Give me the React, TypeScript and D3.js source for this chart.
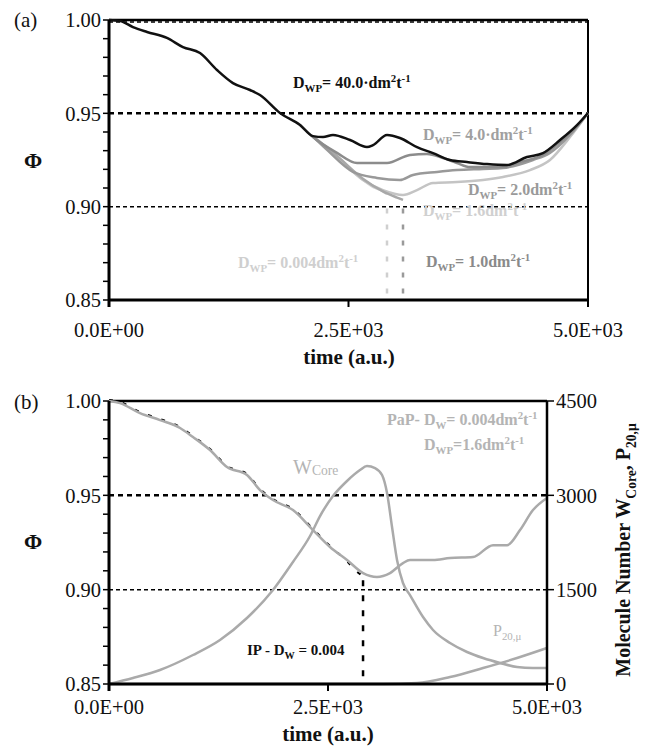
import React from 'react';
import * as d3 from 'd3';

// ---------- Panel (a) data: time (a.u.) vs Phi ----------
const phiD40: [number, number][] = [
  [0, 1.0], [115, 0.9995], [250, 0.9962], [397, 0.9936], [605, 0.9904], [772, 0.9855],
  [950, 0.9823], [1127, 0.9732], [1294, 0.9662], [1472, 0.9625], [1576, 0.9598],
  [1785, 0.9502], [1994, 0.9438], [2129, 0.9378], [2234, 0.9373], [2338, 0.9384],
  [2516, 0.9357], [2693, 0.9319], [2756, 0.933], [2902, 0.9384], [3037, 0.9368],
  [3215, 0.9319], [3382, 0.9287], [3559, 0.925], [3737, 0.9239], [3946, 0.9228],
  [4154, 0.9223], [4363, 0.9266], [4530, 0.9287], [4708, 0.9357], [4885, 0.9437], [5000, 0.9502],
];
const phiD4: [number, number][] = [
  [1994, 0.9438], [2129, 0.9373], [2380, 0.9288], [2589, 0.9234], [2902, 0.9234],
  [3142, 0.9277], [3319, 0.9282], [3486, 0.9261], [3632, 0.9234], [3768, 0.9212],
  [4113, 0.9212], [4290, 0.9239], [4530, 0.9277], [4708, 0.9346], [4885, 0.9432], [5000, 0.9502],
];
const phiD2: [number, number][] = [
  [2129, 0.9375], [2276, 0.9304], [2547, 0.9186], [2797, 0.9154], [3037, 0.9143],
  [3173, 0.917], [3424, 0.9186], [3632, 0.9196], [3904, 0.9202], [4113, 0.9207],
  [4426, 0.925], [4603, 0.9288], [4812, 0.9384], [5000, 0.9502],
];
const phiD16: [number, number][] = [
  [2129, 0.9376], [2380, 0.9266], [2651, 0.9143], [2860, 0.9089], [3069, 0.9063],
  [3215, 0.9089], [3382, 0.9127], [3632, 0.9132], [3904, 0.9143], [4113, 0.9159],
  [4394, 0.9196], [4603, 0.925], [4812, 0.9373], [5000, 0.9502],
];
const phiD1: [number, number][] = [
  [2129, 0.9376], [2380, 0.9272], [2650, 0.915], [2860, 0.9082], [3000, 0.905], [3069, 0.9036],
];
const phiD0004: [number, number][] = [
  [2129, 0.9377], [2380, 0.927], [2600, 0.9165], [2760, 0.9105], [2850, 0.9085], [2902, 0.9068],
];
const dropTimesA = [2902, 3069];

// ---------- Panel (b) data ----------
const phiPaP: [number, number][] = [
  [0, 1.0], [126, 0.9989], [354, 0.9936], [582, 0.9899], [811, 0.9857], [959, 0.9809],
  [1153, 0.974], [1347, 0.965], [1575, 0.9608], [1724, 0.9528], [1872, 0.9475],
  [2100, 0.9422], [2329, 0.9316], [2523, 0.9226], [2717, 0.9157], [2900, 0.9088],
  [3059, 0.9067], [3208, 0.9088], [3356, 0.9141], [3436, 0.9157], [3699, 0.9157],
  [3893, 0.9168], [4155, 0.9173], [4384, 0.9236], [4544, 0.9236], [4692, 0.9316],
  [4840, 0.9422], [5000, 0.9486],
];
const phiIP: [number, number][] = [
  [0, 1.0], [126, 0.9989], [354, 0.9936], [582, 0.9899], [811, 0.9857], [959, 0.9809],
  [1153, 0.974], [1347, 0.965], [1575, 0.9608], [1724, 0.9528], [1872, 0.9475],
  [2100, 0.9422], [2329, 0.9316], [2523, 0.9226], [2717, 0.9145], [2830, 0.909], [2900, 0.9067],
];
const dropTimeB = 2900;
const wCore: [number, number][] = [
  [0, 0], [274, 95], [582, 223], [959, 461], [1267, 700], [1575, 1049], [1872, 1495],
  [2100, 1940], [2295, 2353], [2409, 2671], [2557, 2989], [2717, 3228], [2865, 3402],
  [2945, 3466], [3037, 3434], [3117, 3323], [3174, 3037], [3231, 2496], [3288, 1972],
  [3356, 1606], [3436, 1415], [3585, 1065], [3699, 859], [3893, 652], [4087, 509],
  [4270, 413], [4464, 334], [4658, 270], [4840, 254], [5000, 254],
];
const p20: [number, number][] = [
  [0, 0], [3128, 0], [3516, 16], [3893, 111], [4270, 254], [4658, 413], [5000, 572],
];

const phiTicks = [0.85, 0.9, 0.95, 1.0];
const phiMinorTicks = d3.range(0, 16).map((i) => 0.85 + i * 0.01);
const timeTicks = [0, 2500, 5000];
const timeTickLabels = ['0.0E+00', '2.5E+03', '5.0E+03'];
const molTicks = [0, 1500, 3000, 4500];

const SERIF = "'Liberation Serif', 'Times New Roman', serif";

type Seg = [string, 'n' | 'sub' | 'sup' | 'small'];
function Rich(props: { x: number; y: number; segs: Seg[]; size: number; fill: string; weight?: string | number; anchor?: string; transform?: string; }) {
  const { x, y, segs, size, fill, weight = 'bold', anchor = 'start', transform } = props;
  let cur = 0;
  return (
    <text x={x} y={y} fontSize={size} fill={fill} fontWeight={weight} textAnchor={anchor} fontFamily={SERIF} transform={transform}>
      {segs.map(([t, k], i) => {
        const target = k === 'sub' ? size * 0.28 : k === 'sup' ? -size * 0.38 : k === 'small' ? size * 0.05 : 0;
        const dy = target - cur;
        cur = target;
        return (
          <tspan key={i} dy={dy} fontSize={k === 'n' ? size : size * 0.68}>{t}</tspan>
        );
      })}
    </text>
  );
}

function dwp(val: string, dot: boolean): Seg[] {
  return [['D', 'n'], ['WP', 'sub'], ['= ' + val + (dot ? '·dm' : 'dm'), 'n'], ['2', 'sup'], ['t', 'n'], ['-1', 'sup']];
}

export default function App() {
  const xA = d3.scaleLinear().domain([0, 5000]).range([109, 588]);
  const yA = d3.scaleLinear().domain([0.85, 1.0]).range([300, 20]);
  const xB = d3.scaleLinear().domain([0, 5000]).range([109, 547]);
  const yB = d3.scaleLinear().domain([0.85, 1.0]).range([684, 401]);
  const yR = d3.scaleLinear().domain([0, 4500]).range([684, 401]);

  const lineA = d3.line<[number, number]>().x((d) => xA(d[0])).y((d) => yA(d[1])).curve(d3.curveMonotoneX);
  const lineB = d3.line<[number, number]>().x((d) => xB(d[0])).y((d) => yB(d[1])).curve(d3.curveMonotoneX);
  const lineR = d3.line<[number, number]>().x((d) => xB(d[0])).y((d) => yR(d[1])).curve(d3.curveMonotoneX);

  const leftAxis = (x: d3.ScaleLinear<number, number>, y: d3.ScaleLinear<number, number>, key: string) => (
    <g key={key}>
      {phiMinorTicks.map((v, i) => (
        <line key={i} x1={x(0) - 6} x2={x(0)} y1={y(v)} y2={y(v)} stroke="#000" strokeWidth={1.5} />
      ))}
      {phiTicks.map((v, i) => (
        <text key={'l' + i} x={x(0) - 8} y={y(v)} dy="0.35em" textAnchor="end" fontSize={20.5} fontFamily={SERIF} fill="#111">
          {v.toFixed(2)}
        </text>
      ))}
    </g>
  );

  const bottomAxis = (x: d3.ScaleLinear<number, number>, yPix: number, labelY: number, key: string) => (
    <g key={key}>
      {timeTicks.map((v, i) => (
        <line key={i} x1={x(v)} x2={x(v)} y1={yPix} y2={yPix + 7} stroke="#000" strokeWidth={2} />
      ))}
      {timeTicks.map((v, i) => (
        <text key={'t' + i} x={x(v)} y={labelY} textAnchor="middle" fontSize={20.5} fontFamily={SERIF} fill="#111">
          {timeTickLabels[i]}
        </text>
      ))}
    </g>
  );

  return (
    <svg width={654} height={747} style={{ position: 'absolute', left: 0, top: 0, background: '#fff' }}>
      <rect x={0} y={0} width={654} height={747} fill="#fff" />

      {/* ================= Panel (a) ================= */}
      <text x={14} y={27} fontSize={21} fontFamily={SERIF} fill="#111">(a)</text>
      <line x1={xA(0)} x2={xA(5000)} y1={yA(0.95)} y2={yA(0.95)} stroke="#000" strokeWidth={2.5} strokeDasharray="5,4" />
      <line x1={xA(0)} x2={xA(5000)} y1={yA(0.9)} y2={yA(0.9)} stroke="#000" strokeWidth={1.5} strokeDasharray="4,3" />
      <line x1={xA(0)} x2={xA(5000)} y1={yA(1.0) + 2} y2={yA(1.0) + 2} stroke="#000" strokeWidth={1.5} strokeDasharray="4,3" />
      <line x1={xA(0)} x2={xA(5000)} y1={yA(1.0)} y2={yA(1.0)} stroke="#000" strokeWidth={2.5} />
      <line x1={xA(5000)} x2={xA(5000)} y1={yA(1.0)} y2={yA(0.85)} stroke="#000" strokeWidth={2} />

      <line x1={xA(dropTimesA[0])} x2={xA(dropTimesA[0])} y1={yA(0.899)} y2={yA(0.85)} stroke="#cfcfcf" strokeWidth={2.5} strokeDasharray="5,11" />
      <line x1={xA(dropTimesA[1])} x2={xA(dropTimesA[1])} y1={yA(0.899)} y2={yA(0.85)} stroke="#9a9a9a" strokeWidth={2.5} strokeDasharray="5,11" />

      <path d={lineA(phiD0004) || ''} fill="none" stroke="#d2d2d2" strokeWidth={2.5} />
      <path d={lineA(phiD16) || ''} fill="none" stroke="#c4c4c4" strokeWidth={2.5} />
      <path d={lineA(phiD1) || ''} fill="none" stroke="#a8a8a8" strokeWidth={2.5} />
      <path d={lineA(phiD2) || ''} fill="none" stroke="#999" strokeWidth={2.5} />
      <path d={lineA(phiD4) || ''} fill="none" stroke="#8c8c8c" strokeWidth={2.5} />
      <path d={lineA(phiD40) || ''} fill="none" stroke="#111" strokeWidth={2.5} />

      {leftAxis(xA, yA, 'la')}
      <line x1={xA(0)} x2={xA(0)} y1={yA(1.0)} y2={yA(0.85) + 7} stroke="#000" strokeWidth={3} />
      <line x1={xA(0)} x2={xA(5000)} y1={yA(0.85)} y2={yA(0.85)} stroke="#000" strokeWidth={3} />
      {bottomAxis(xA, 300, 337, 'ba')}

      <Rich x={293} y={88} segs={dwp('40.0', true)} size={16} fill="#111" />
      <Rich x={423} y={140} segs={dwp('4.0', true)} size={16} fill="#a0a0a0" />
      <Rich x={468} y={195} segs={dwp('2.0', false)} size={16} fill="#9a9a9a" />
      <Rich x={423} y={216} segs={dwp('1.6', false)} size={16} fill="#d0d0d0" />
      <Rich x={426} y={267} segs={dwp('1.0', false)} size={16} fill="#8a8a8a" />
      <Rich x={238} y={268} segs={dwp('0.004', false)} size={16} fill="#cfcfcf" />

      <text x={33} y={160} dy="0.35em" textAnchor="middle" fontSize={22} fontWeight="bold" fontFamily={SERIF} fill="#111">Φ</text>
      <text x={349} y={364} textAnchor="middle" fontSize={21} fontWeight="bold" fontFamily={SERIF} fill="#111">time (a.u.)</text>

      {/* ================= Panel (b) ================= */}
      <text x={14} y={409} fontSize={21} fontFamily={SERIF} fill="#111">(b)</text>
      <line x1={xB(0)} x2={xB(5000)} y1={yB(0.95)} y2={yB(0.95)} stroke="#000" strokeWidth={2.5} strokeDasharray="5,4" />
      <line x1={xB(0)} x2={xB(5000)} y1={yB(0.9)} y2={yB(0.9)} stroke="#000" strokeWidth={1.5} strokeDasharray="4,3" />
      <line x1={xB(0)} x2={xB(5000)} y1={yB(1.0)} y2={yB(1.0)} stroke="#000" strokeWidth={2.5} />

      <line x1={xB(dropTimeB)} x2={xB(dropTimeB)} y1={yB(0.905)} y2={yB(0.85)} stroke="#000" strokeWidth={2.5} strokeDasharray="6,9" />

      <path d={lineR(p20) || ''} fill="none" stroke="#aaa" strokeWidth={2.5} />
      <path d={lineR(wCore) || ''} fill="none" stroke="#aaa" strokeWidth={2.5} />
      <path d={lineB(phiIP) || ''} fill="none" stroke="#000" strokeWidth={2} strokeDasharray="4,10" transform="translate(0,-1)" />
      <path d={lineB(phiPaP) || ''} fill="none" stroke="#aaa" strokeWidth={2.5} />

      <line x1={xB(5000)} x2={xB(5000)} y1={yR(4500)} y2={yR(0)} stroke="#000" strokeWidth={2.5} />
      {molTicks.map((v, i) => (
        <line key={'rt' + i} x1={xB(5000)} x2={xB(5000) + 7} y1={yR(v)} y2={yR(v)} stroke="#000" strokeWidth={1.5} />
      ))}
      {molTicks.map((v, i) => (
        <text key={'rl' + i} x={xB(5000) + 9} y={yR(v)} dy="0.35em" fontSize={20.5} fontFamily={SERIF} fill="#111">{v}</text>
      ))}

      {leftAxis(xB, yB, 'lb')}
      <line x1={xB(0)} x2={xB(0)} y1={yB(1.0)} y2={yB(0.85) + 7} stroke="#000" strokeWidth={3} />
      <line x1={xB(0)} x2={xB(5000)} y1={yB(0.85)} y2={yB(0.85)} stroke="#000" strokeWidth={3} />
      {bottomAxis(xB, 684, 714, 'bb')}

      <Rich x={387} y={425} segs={[['PaP- D', 'n'], ['W', 'sub'], ['= 0.004dm', 'n'], ['2', 'sup'], ['t', 'n'], ['-1', 'sup']]} size={16} fill="#b4b4b4" />
      <Rich x={424} y={450} segs={[['D', 'n'], ['WP', 'sub'], ['=1.6dm', 'n'], ['2', 'sup'], ['t', 'n'], ['-1', 'sup']]} size={16} fill="#b4b4b4" />
      <Rich x={293} y={474} segs={[['W', 'n'], ['Core', 'small']]} size={20} fill="#b4b4b4" weight="normal" />
      <Rich x={493} y={636} segs={[['P', 'n'], ['20,μ', 'sub']]} size={16} fill="#b4b4b4" weight="normal" />
      <Rich x={247} y={655} segs={[['IP - D', 'n'], ['W', 'sub'], [' = 0.004', 'n']]} size={15} fill="#111" />

      <text x={33} y={541} dy="0.35em" textAnchor="middle" fontSize={22} fontWeight="bold" fontFamily={SERIF} fill="#111">Φ</text>
      <text x={328} y={741} textAnchor="middle" fontSize={21} fontWeight="bold" fontFamily={SERIF} fill="#111">time (a.u.)</text>
      <Rich x={0} y={0} transform="translate(630,550) rotate(-90)" anchor="middle"
        segs={[['Molecule Number W', 'n'], ['Core', 'sub'], [',  P', 'n'], ['20,μ', 'sub']]} size={20} fill="#111" />
    </svg>
  );
}
